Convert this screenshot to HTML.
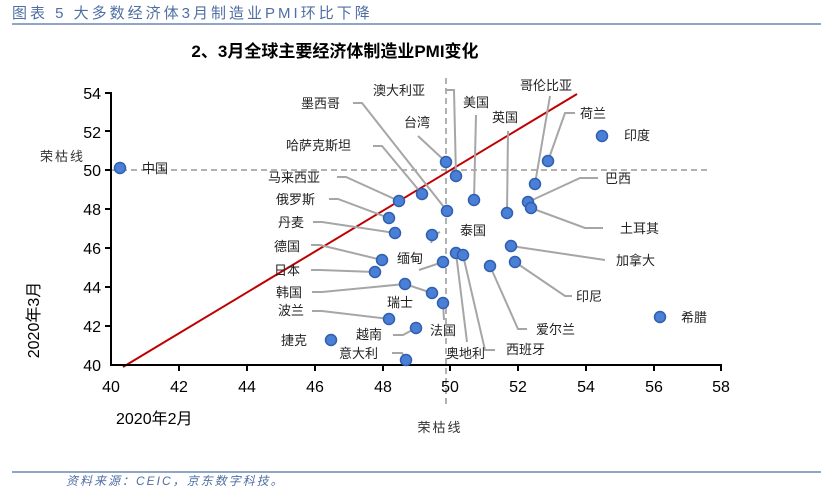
<!DOCTYPE html>
<html><head><meta charset="utf-8"><style>
body{margin:0;background:#fff;}
svg text{font-family:"Liberation Sans","Noto Sans CJK SC",sans-serif;}
</style></head><body>
<svg width="821" height="494" viewBox="0 0 821 494" xmlns="http://www.w3.org/2000/svg">
<rect width="821" height="494" fill="#fff"/>
<text x="12" y="18" font-size="15" fill="#4f6fa3" letter-spacing="3" font-family="'Noto Sans CJK SC',sans-serif">图表 5 大多数经济体3月制造业PMI环比下降</text>
<line x1="12" y1="24" x2="821" y2="24" stroke="#4f6fa3" stroke-width="1.2"/>
<text x="335" y="57" font-size="17" font-weight="bold" text-anchor="middle" fill="#000">2、3月全球主要经济体制造业PMI变化</text>
<line x1="111" y1="170" x2="707" y2="170" stroke="#999" stroke-width="1.5" stroke-dasharray="6,4"/>
<line x1="446" y1="78" x2="446" y2="405" stroke="#999" stroke-width="1.5" stroke-dasharray="6,4"/>
<line x1="123" y1="367" x2="577" y2="94" stroke="#c00000" stroke-width="2"/>
<g stroke="#000" stroke-width="2">
<line x1="111" y1="92" x2="111" y2="366"/>
<line x1="110" y1="365" x2="722" y2="365"/>
<line x1="105" y1="93" x2="111" y2="93"/><line x1="105" y1="131" x2="111" y2="131"/><line x1="105" y1="170" x2="111" y2="170"/><line x1="105" y1="209" x2="111" y2="209"/><line x1="105" y1="248" x2="111" y2="248"/><line x1="105" y1="287" x2="111" y2="287"/><line x1="105" y1="326" x2="111" y2="326"/>
<line x1="179" y1="365" x2="179" y2="371"/><line x1="247" y1="365" x2="247" y2="371"/><line x1="315" y1="365" x2="315" y2="371"/><line x1="383" y1="365" x2="383" y2="371"/><line x1="450" y1="365" x2="450" y2="371"/><line x1="518" y1="365" x2="518" y2="371"/><line x1="586" y1="365" x2="586" y2="371"/><line x1="654" y1="365" x2="654" y2="371"/><line x1="721" y1="365" x2="721" y2="371"/>
</g>
<g font-size="16" fill="#000" text-anchor="end">
<text x="101" y="99">54</text><text x="101" y="138">52</text><text x="101" y="176">50</text><text x="101" y="215">48</text><text x="101" y="254">46</text><text x="101" y="293">44</text><text x="101" y="332">42</text><text x="101" y="371">40</text>
</g>
<g font-size="16" fill="#000" text-anchor="middle">
<text x="111" y="392">40</text><text x="179" y="392">42</text><text x="247" y="392">44</text><text x="315" y="392">46</text><text x="383" y="392">48</text><text x="450" y="392">50</text><text x="518" y="392">52</text><text x="586" y="392">54</text><text x="654" y="392">56</text><text x="721" y="392">58</text>
</g>
<text x="116" y="424" font-size="16">2020年2月</text>
<text transform="translate(39,320) rotate(-90)" font-size="16" text-anchor="middle">2020年3月</text>
<text x="440" y="432" font-size="13" fill="#333" text-anchor="middle" letter-spacing="2">荣枯线</text>
<text x="40" y="161" font-size="13" fill="#333" letter-spacing="2">荣枯线</text>
<g stroke="#a6a6a6" stroke-width="2" fill="none">
<polyline points="445,90 454,90 456,176"/>
<polyline points="353,103 362,103 447,211"/>
<polyline points="418,136 446,162"/>
<polyline points="373,146 382,146 422,194"/>
<polyline points="337,177 346,177 399,201"/>
<polyline points="329,199 338,199 389,218"/>
<polyline points="313,222 322,222 395,233"/>
<polyline points="431,243 434,235 440,232"/>
<polyline points="476,115 474,200"/>
<polyline points="508,131 507,213"/>
<polyline points="550,96 535,184"/>
<polyline points="575,113 565,113 548,161"/>
<polyline points="598,178 580,178 528,202"/>
<polyline points="603,228 585,228 531,208"/>
<polyline points="311,245 320,245 382,260"/>
<polyline points="311,270 320,270 375,272"/>
<polyline points="312,292 322,292 405,284 432,293"/>
<polyline points="312,311 322,311 389,319"/>
<polyline points="419,270 443,262"/>
<polyline points="443,303 444,320"/>
<polyline points="393,335 403,335 416,328"/>
<polyline points="327,340 331,340"/>
<polyline points="392,353 402,353 406,360"/>
<polyline points="456,253 467,342"/>
<polyline points="463,255 485,350 495,350"/>
<polyline points="511,246 605,260"/>
<polyline points="515,262 565,296 572,296"/>
<polyline points="490,266 518,329 527,329"/>
</g>
<g fill="#4a7fd6" stroke="#2f5fae" stroke-width="1.5">
<circle cx="120" cy="168" r="5.5"/><circle cx="446" cy="162" r="5.5"/><circle cx="456" cy="176" r="5.5"/><circle cx="447" cy="211" r="5.5"/><circle cx="422" cy="194" r="5.5"/><circle cx="399" cy="201" r="5.5"/><circle cx="389" cy="218" r="5.5"/><circle cx="395" cy="233" r="5.5"/><circle cx="432" cy="235" r="5.5"/><circle cx="474" cy="200" r="5.5"/><circle cx="507" cy="213" r="5.5"/><circle cx="535" cy="184" r="5.5"/><circle cx="548" cy="161" r="5.5"/><circle cx="602" cy="136" r="5.5"/><circle cx="528" cy="202" r="5.5"/><circle cx="531" cy="208" r="5.5"/><circle cx="382" cy="260" r="5.5"/><circle cx="375" cy="272" r="5.5"/><circle cx="443" cy="262" r="5.5"/><circle cx="405" cy="284" r="5.5"/><circle cx="432" cy="293" r="5.5"/><circle cx="443" cy="303" r="5.5"/><circle cx="389" cy="319" r="5.5"/><circle cx="416" cy="328" r="5.5"/><circle cx="331" cy="340" r="5.5"/><circle cx="406" cy="360" r="5.5"/><circle cx="456" cy="253" r="5.5"/><circle cx="463" cy="255" r="5.5"/><circle cx="511" cy="246" r="5.5"/><circle cx="515" cy="262" r="5.5"/><circle cx="490" cy="266" r="5.5"/><circle cx="660" cy="317" r="5.5"/>
</g>
<g font-size="13" fill="#222">
<text x="142" y="173">中国</text>
<text x="373" y="95">澳大利亚</text>
<text x="301" y="108">墨西哥</text>
<text x="404" y="127">台湾</text>
<text x="286" y="150">哈萨克斯坦</text>
<text x="268" y="182">马来西亚</text>
<text x="276" y="204">俄罗斯</text>
<text x="278" y="227">丹麦</text>
<text x="460" y="235">泰国</text>
<text x="463" y="107">美国</text>
<text x="492" y="122">英国</text>
<text x="520" y="90">哥伦比亚</text>
<text x="580" y="118">荷兰</text>
<text x="624" y="140">印度</text>
<text x="605" y="183">巴西</text>
<text x="620" y="233">土耳其</text>
<text x="274" y="251">德国</text>
<text x="274" y="275">日本</text>
<text x="397" y="263">缅甸</text>
<text x="276" y="297">韩国</text>
<text x="387" y="307">瑞士</text>
<text x="278" y="315">波兰</text>
<text x="430" y="335">法国</text>
<text x="356" y="339">越南</text>
<text x="281" y="345">捷克</text>
<text x="339" y="358">意大利</text>
<text x="446" y="358">奥地利</text>
<text x="506" y="354">西班牙</text>
<text x="616" y="265">加拿大</text>
<text x="576" y="301">印尼</text>
<text x="536" y="334">爱尔兰</text>
<text x="681" y="322">希腊</text>
</g>
<line x1="12" y1="472" x2="821" y2="472" stroke="#4f6fa3" stroke-width="1.2"/>
<text x="66" y="485" font-size="12" font-style="italic" fill="#4f6fa3" letter-spacing="2">资料来源：CEIC，京东数字科技。</text>
</svg>
</body></html>
